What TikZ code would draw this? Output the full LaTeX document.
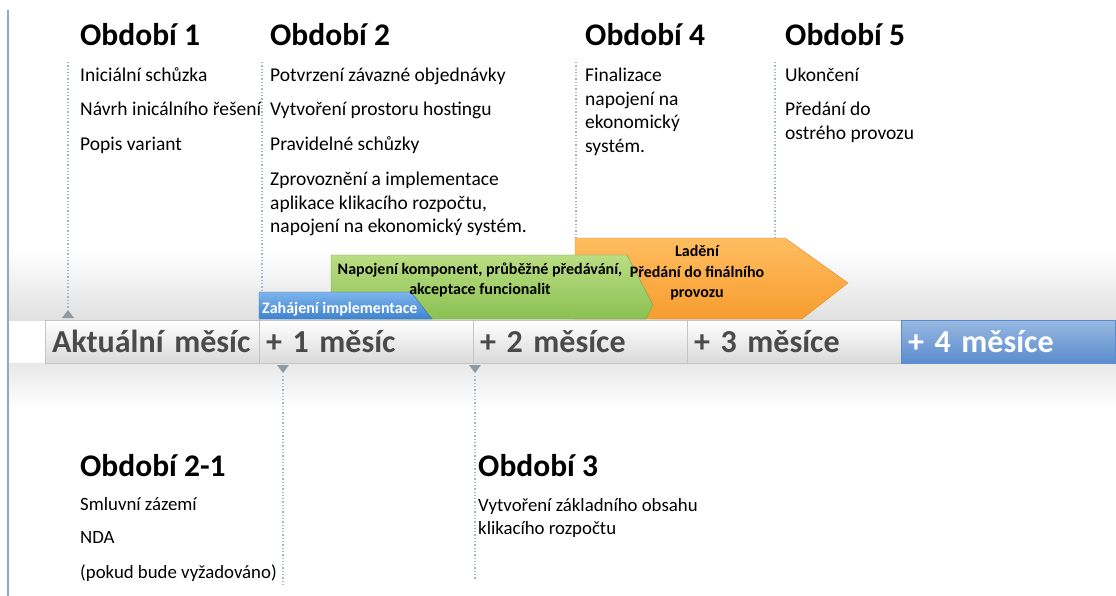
\documentclass[tikz,border=0pt]{standalone}
\usepackage{fontspec}
\setmainfont{Carlito}
\definecolor{axisblue}{HTML}{8EA9C1}
\definecolor{dotcol}{HTML}{A3B6C9}
\definecolor{tlborder}{HTML}{C4C4C4}
\definecolor{tlbottom}{HTML}{DADADA}
\definecolor{tltext}{HTML}{4A4A4A}
\definecolor{markgray}{HTML}{8E9AA6}
\definecolor{lastblueA}{HTML}{98B9E2}
\definecolor{lastblueB}{HTML}{5B8CCD}
\definecolor{zahA}{HTML}{7DB5EC}
\definecolor{zahB}{HTML}{3F83CF}
\definecolor{greenA}{HTML}{BADD83}
\definecolor{greenB}{HTML}{8BC152}
\definecolor{orangeA}{HTML}{FFBD60}
\definecolor{orangeB}{HTML}{F79D2F}
\begin{document}
\begin{tikzpicture}[x=1pt,y=-1pt,
    heading/.style={anchor=base west,inner sep=0pt,font=\fontsize{31.5}{36}\selectfont\bfseries},
    item/.style={anchor=base west,inner sep=0pt,font=\fontsize{19.5}{23.5}\selectfont},
    itemsmall/.style={anchor=base west,inner sep=0pt,font=\fontsize{18.8}{23}\selectfont},
    tlseg/.style={draw=tlborder,minimum height=43pt,text width=200pt,inner xsep=7pt,inner ysep=0pt,
        align=left,font=\fontsize{32}{36}\selectfont\bfseries,text=tltext,top color=white,bottom color=tlbottom},
    dotline/.style={dotted,line width=1.3pt,draw=dotcol},
    barlabel/.style={font=\fontsize{16}{20.5}\selectfont\bfseries,align=center,inner sep=0pt}]
    \useasboundingbox (0,0) rectangle (1116,596);
    \fill[white] (0,0) rectangle (1116,596);

    %pozadi
    \shade[top color=white,bottom color=black!12] (9,250) rectangle (1116,320);
    \shade[top color=black!9,bottom color=white] (9,363) rectangle (1116,408);
    \draw[axisblue,line width=1.5pt] (8,10) -- (8,596);

    %teckovane cary nahore
    \coordinate (m0) at (68,62);
    \coordinate (m1) at (262,62);
    \coordinate (m4) at (576,62);
    \coordinate (m5) at (775,62);
    \draw[dotline] (m0) -- (68,309);
    \draw[dotline] (m1) -- (262,292);
    \draw[dotline] (m4) -- (576,238);
    \draw[dotline] (m5) -- (775,238);

    %faze
    \shade[top color=orangeA,bottom color=orangeB,draw=orangeB!90!black,line width=0.4pt]
        (575,238) -- (785,238) -- (848,283) -- (802,319) -- (575,319) -- cycle;
    \shade[top color=greenA,bottom color=greenB,draw=greenB!85!black,line width=0.4pt]
        (331,255) -- (627,255) -- (653,305) -- (646,319) -- (331,319) -- cycle;
    \shade[top color=zahA,bottom color=zahB,draw=zahB!85!black,line width=0.4pt]
        (259,292) -- (411,292) -- (432,319) -- (259,319) -- cycle;
    \node[barlabel] (ladeni) at (697,273) {Ladění\\Předání do finálního\\provozu};
    \node[barlabel] (napojeni) at (480,280) {Napojení komponent, průběžné předávání,\\akceptace funcionalit};
    \node[barlabel,anchor=base west,text=white] (zahajeni) at (262,313) {Zahájení implementace};

    %casova osa
    \node[tlseg] (t0) at (152,341.5) {\mbox{Aktuální měsíc}};
    \node[tlseg] (t1) at (366,341.5) {\mbox{+ 1 měsíc}};
    \node[tlseg] (t2) at (580,341.5) {\mbox{+ 2 měsíce}};
    \node[tlseg] (t3) at (794,341.5) {\mbox{+ 3 měsíce}};
    \node[tlseg,draw=lastblueB,top color=lastblueA,bottom color=lastblueB,text=white] (t4) at (1008,341.5) {\mbox{+ 4 měsíce}};

    %znacky
    \fill[markgray] (62,318) -- (74,318) -- (68,310) -- cycle;
    \fill[markgray] (277,365) -- (289,365) -- (283,373) -- cycle;
    \fill[markgray] (469,365) -- (481,365) -- (475,373) -- cycle;
    \coordinate (m21) at (283,585);
    \coordinate (m3) at (475,580);
    \draw[dotline] (283,376) -- (m21);
    \draw[dotline] (475,376) -- (m3);

    %Obdobi 1
    \node[heading] (o1) at (80,46) {Období 1};
    \node[item] at (80,82) {Iniciální schůzka};
    \node[item] at (80,116) {Návrh inicálního řešení};
    \node[item] at (80,151) {Popis variant};
    %Obdobi 2
    \node[heading] (o2) at (270,46) {Období 2};
    \node[item] at (270,82) {Potvrzení závazné objednávky};
    \node[item] at (270,116) {Vytvoření prostoru hostingu};
    \node[item] at (270,151) {Pravidelné schůzky};
    \foreach \t [count=\i] in {Zprovoznění a implementace,{aplikace klikacího rozpočtu,},napojení na ekonomický systém.}
        \node[item] at (270,{186+23.5*(\i-1)}) {\t};
    %Obdobi 4
    \node[heading] (o4) at (585,46) {Období 4};
    \foreach \t [count=\i] in {Finalizace,napojení na,ekonomický,systém.}
        \node[item] at (585,{82+23.5*(\i-1)}) {\t};
    %Obdobi 5
    \node[heading] (o5) at (785,46) {Období 5};
    \node[item] at (785,82) {Ukončení};
    \node[item] at (785,116) {Předání do};
    \node[item] at (785,139.5) {ostrého provozu};

    %Obdobi 2-1
    \node[heading] (o21) at (80,476) {Období 2-1};
    \node[itemsmall] at (80,510) {Smluvní zázemí};
    \node[itemsmall] at (80,543) {NDA};
    \node[itemsmall] at (80,578) {(pokud bude vyžadováno)};
    %Obdobi 3
    \node[heading] (o3) at (478,476) {Období 3};
    \node[itemsmall] at (478,511) {Vytvoření základního obsahu};
    \node[itemsmall] at (478,534) {klikacího rozpočtu};
\end{tikzpicture}
\end{document}
